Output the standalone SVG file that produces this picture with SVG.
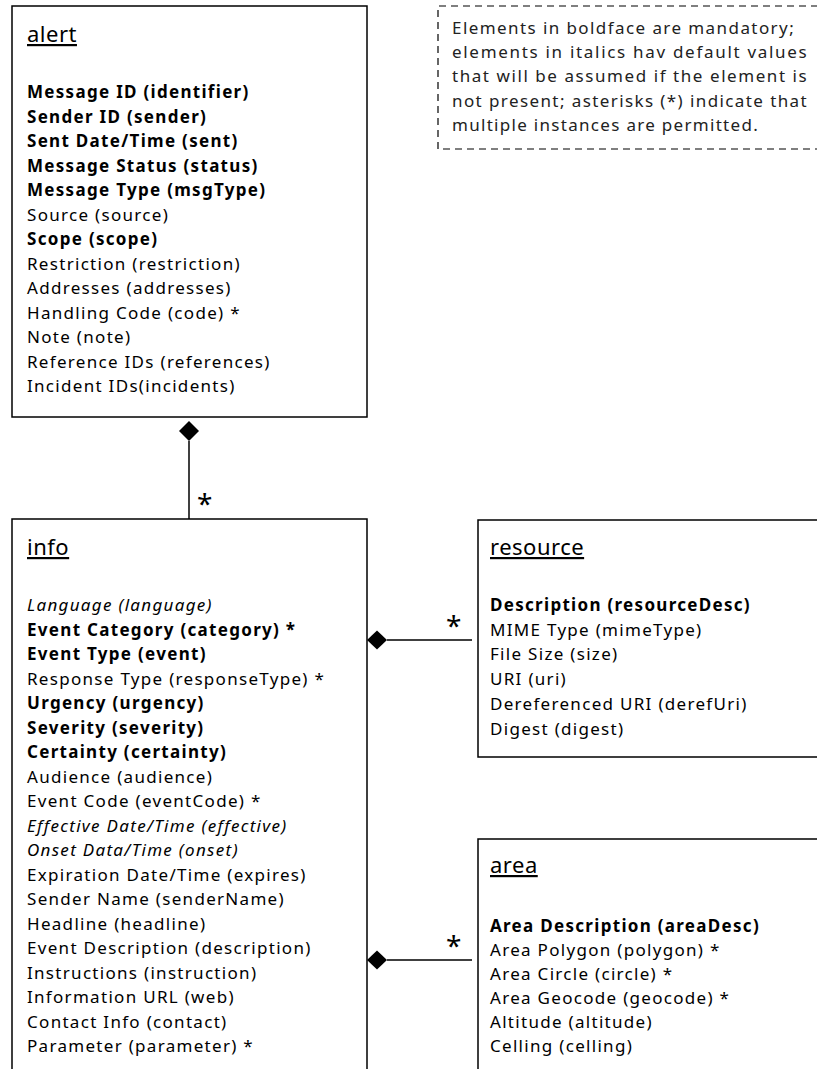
<svg xmlns="http://www.w3.org/2000/svg" width="817" height="1069" viewBox="0 0 817 1069">
<style>
text{font-family:"Noto Sans","Open Sans","Liberation Sans",sans-serif;font-size:17px;letter-spacing:1.3px;fill:#000}
.t{font-size:22px;letter-spacing:0.5px;text-decoration:underline}
.b{font-weight:bold}
.i{font-style:italic}
.box{fill:#fff;stroke:#000;stroke-width:1.5}
.ln{stroke:#000;stroke-width:1.5;fill:none}
.note{fill:none;stroke:#000;stroke-width:1.2;stroke-dasharray:7,5}
.nt{fill:#222}
.ast{font-size:28px;letter-spacing:0}
</style>
<g id="note">
<path class="note" d="M818,6 H438 V149 H818"/>
<text class="nt" x="452" y="34" textLength="343" lengthAdjust="spacing">Elements in boldface are mandatory;</text>
<text class="nt" x="452" y="58" textLength="356" lengthAdjust="spacing">elements in italics hav default values</text>
<text class="nt" x="452" y="82" textLength="356" lengthAdjust="spacing">that will be assumed if the element is</text>
<text class="nt" x="452" y="107" textLength="356" lengthAdjust="spacing">not present; asterisks (*) indicate that</text>
<text class="nt" x="452" y="131">multiple instances are permitted.</text>
</g>
<g id="alert">
<rect class="box" x="12" y="6" width="355" height="411"/>
<text class="t" x="27" y="42">alert</text>
<text class="b" x="27" y="98">Message ID (identifier)</text>
<text class="b" x="27" y="122.5">Sender ID (sender)</text>
<text class="b" x="27" y="147">Sent Date/Time (sent)</text>
<text class="b" x="27" y="171.5">Message Status (status)</text>
<text class="b" x="27" y="196">Message Type (msgType)</text>
<text x="27" y="220.5">Source (source)</text>
<text class="b" x="27" y="245">Scope (scope)</text>
<text x="27" y="269.5">Restriction (restriction)</text>
<text x="27" y="294">Addresses (addresses)</text>
<text x="27" y="318.5">Handling Code (code) *</text>
<text x="27" y="343">Note (note)</text>
<text x="27" y="367.5">Reference IDs (references)</text>
<text x="27" y="392">Incident IDs(incidents)</text>
</g>
<g id="info">
<path class="box" d="M12,1070 V519 H367 V1070"/>
<text class="t" x="27" y="555">info</text>
<text class="i" x="27" y="611">Language (language)</text>
<text class="b" x="27" y="635.5">Event Category (category) *</text>
<text class="b" x="27" y="660">Event Type (event)</text>
<text x="27" y="684.5">Response Type (responseType) *</text>
<text class="b" x="27" y="709">Urgency (urgency)</text>
<text class="b" x="27" y="733.5">Severity (severity)</text>
<text class="b" x="27" y="758">Certainty (certainty)</text>
<text x="27" y="782.5">Audience (audience)</text>
<text x="27" y="807">Event Code (eventCode) *</text>
<text class="i" x="27" y="831.5">Effective Date/Time (effective)</text>
<text class="i" x="27" y="856">Onset Data/Time (onset)</text>
<text x="27" y="880.5">Expiration Date/Time (expires)</text>
<text x="27" y="905">Sender Name (senderName)</text>
<text x="27" y="929.5">Headline (headline)</text>
<text x="27" y="954">Event Description (description)</text>
<text x="27" y="978.5">Instructions (instruction)</text>
<text x="27" y="1003">Information URL (web)</text>
<text x="27" y="1027.5">Contact Info (contact)</text>
<text x="27" y="1052">Parameter (parameter) *</text>
</g>
<g id="resource">
<path class="box" d="M818,520 H478 V757 H818"/>
<text class="t" x="490" y="555">resource</text>
<text class="b" x="490" y="611">Description (resourceDesc)</text>
<text x="490" y="635.7">MIME Type (mimeType)</text>
<text x="490" y="660.4">File Size (size)</text>
<text x="490" y="685.1">URI (uri)</text>
<text x="490" y="709.8">Dereferenced URI (derefUri)</text>
<text x="490" y="734.5">Digest (digest)</text>
</g>
<g id="area">
<path class="box" d="M818,839 H478 V1070"/>
<text class="t" x="490" y="873">area</text>
<text class="b" x="490" y="932">Area Description (areaDesc)</text>
<text x="490" y="956">Area Polygon (polygon) *</text>
<text x="490" y="980">Area Circle (circle) *</text>
<text x="490" y="1004">Area Geocode (geocode) *</text>
<text x="490" y="1028">Altitude (altitude)</text>
<text x="490" y="1052">Celling (celling)</text>
</g>
<g id="connectors">
<line class="ln" x1="189" y1="441" x2="189" y2="519"/>
<polygon points="189,421 199,431 189,441 179,431" fill="#000"/>
<text class="ast" x="197" y="514">*</text>
<line class="ln" x1="387" y1="640" x2="472" y2="640"/>
<polygon points="367,640 377,630.5 387,640 377,649.5" fill="#000"/>
<text class="ast" x="446" y="636">*</text>
<line class="ln" x1="387" y1="960" x2="472" y2="960" stroke-width="2.5"/>
<polygon points="367,960 377,950.5 387,960 377,969.5" fill="#000"/>
<text class="ast" x="446" y="956">*</text>
</g>
</svg>
